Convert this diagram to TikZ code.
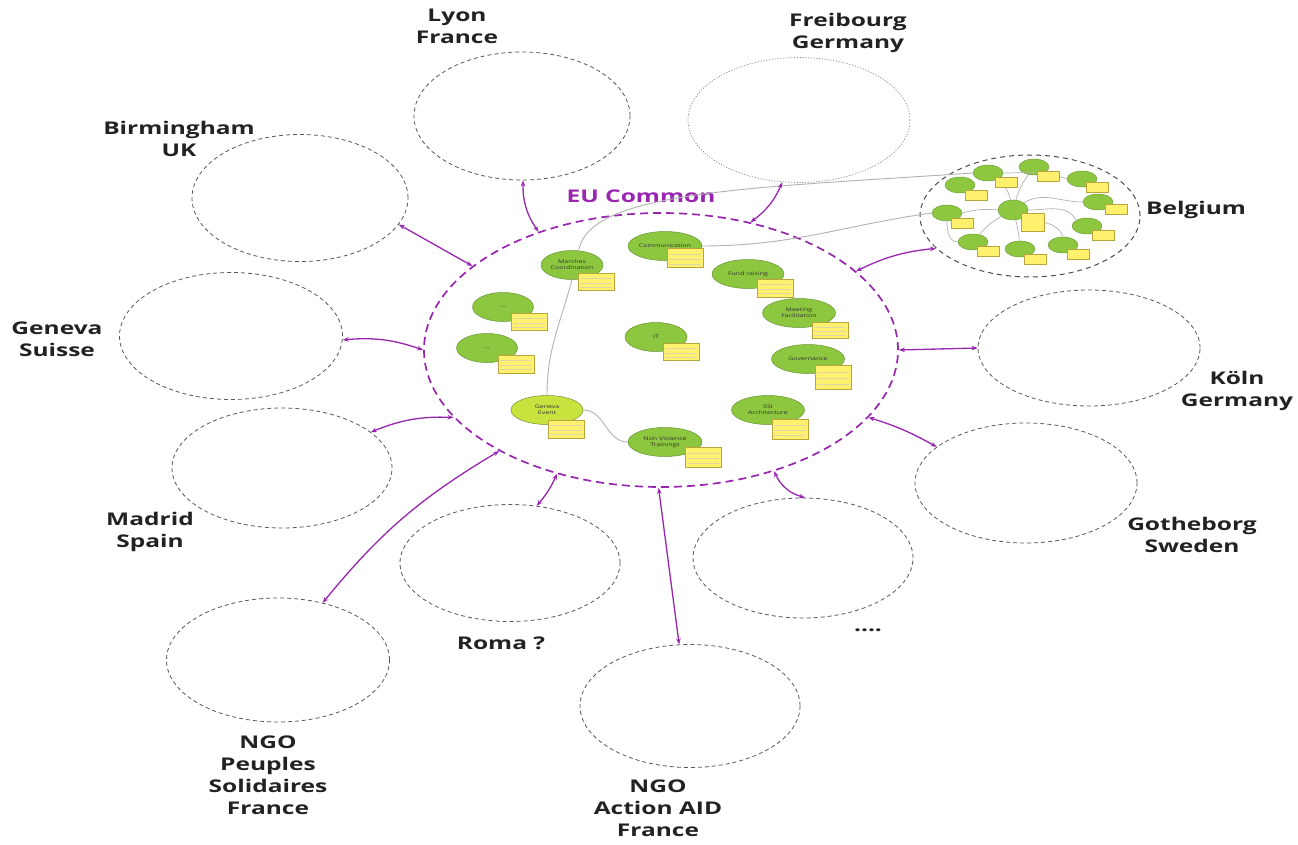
\documentclass[tikz,border=0pt]{standalone}
\usepackage{fontspec}
\setmainfont[FakeStretch=1.4]{Open Sans}
\usetikzlibrary{shapes.geometric,arrows.meta,calc}
\definecolor{eupurple}{RGB}{152,38,175}
\definecolor{labelgray}{RGB}{34,34,34}
\definecolor{leaf}{RGB}{141,198,63}
\definecolor{leafdark}{RGB}{105,150,55}
\definecolor{limeleaf}{RGB}{200,226,62}
\definecolor{notey}{RGB}{255,240,110}
\definecolor{noteb}{RGB}{185,165,60}
\begin{document}
\begin{tikzpicture}[x=1pt,y=-1pt,
  city/.style={ellipse, draw=black!65, dash pattern=on 4pt off 3pt, line width=0.8pt,
    minimum width=220pt, minimum height=124pt, inner sep=0pt},
  citydot/.style={city, draw=black!45, dash pattern=on 1.2pt off 1.6pt, line width=0.7pt},
  hub/.style={ellipse, draw=eupurple, dash pattern=on 8pt off 5pt, line width=1.7pt,
    minimum width=474pt, minimum height=274pt, inner sep=0pt},
  place/.style={font=\bfseries\fontsize{17.5}{22}\selectfont, align=center, text=labelgray},
  leafnode/.style={ellipse, draw=leafdark, fill=leaf, line width=0.5pt, minimum width=72pt,
    minimum height=29pt, inner sep=0pt, align=center, text=black!80,
    font=\fontsize{5}{5.8}\selectfont},
  minileaf/.style={ellipse, draw=leafdark, fill=leaf, line width=0.4pt, minimum width=30pt,
    minimum height=16pt, inner sep=0pt},
  note/.style={draw=noteb, fill=notey, line width=0.5pt, inner sep=0pt,
    minimum width=36pt, minimum height=18pt,
    path picture={\foreach \f in {0.3,0.55,0.8}{\draw[noteb!45,line width=0.3pt]
      ($(path picture bounding box.north west)!\f!(path picture bounding box.south west)+(2pt,0)$) --
      ($(path picture bounding box.north east)!\f!(path picture bounding box.south east)+(-2pt,0)$);}}},
  mininote/.style={draw=noteb, fill=notey, line width=0.4pt, inner sep=0pt,
    minimum width=22pt, minimum height=10pt},
  thread/.style={draw=black!30, line width=0.9pt},
  link/.style={draw=eupurple, line width=1.3pt,
    {Stealth[length=6pt,width=4.5pt]}-{Stealth[length=6pt,width=4.5pt]}}
]
\useasboundingbox (0,0) rectangle (1298,845);
\fill[white] (0,0) rectangle (1298,845);

% central hub
\node[hub] (hub) at (661,350) {};
\node[font=\bfseries\fontsize{17.5}{22}\selectfont, text=eupurple] (eutitle) at (641,196) {EU Common};

% outer cities
\node[city] (lyon) at (522,116) [minimum width=216pt, minimum height=128pt] {};
\node[citydot] (frei) at (799,120) [minimum width=222pt, minimum height=125pt] {};
\node[city] (birm) at (300,198) [minimum width=216pt, minimum height=127pt] {};
\node[city] (gene) at (231,336) [minimum width=223pt, minimum height=127pt] {};
\node[city] (madr) at (282,468) [minimum width=220pt, minimum height=120pt] {};
\node[city] (peup) at (278,660) [minimum width=223pt, minimum height=124pt] {};
\node[city] (roma) at (510,563) [minimum width=220pt, minimum height=117pt] {};
\node[city] (aid)  at (690,706) [minimum width=220pt, minimum height=123pt] {};
\node[city] (more) at (803,558) [minimum width=220pt, minimum height=120pt] {};
\node[city] (gote) at (1026,483) [minimum width=222pt, minimum height=120pt] {};
\node[city] (koln) at (1089,348) [minimum width=222pt, minimum height=116pt] {};
\node[city] (belg) at (1030,216) [minimum width=220pt, minimum height=122pt, draw=black!70, line width=1pt, dash pattern=on 5pt off 4pt] {};

% labels
\node[place] (tLyon) at (457,26) {Lyon\\France};
\node[place] (tFrei) at (848,33) {Freibourg\\Germany};
\node[place] (tBirm) at (179,139) {Birmingham\\UK};
\node[place] (tGene) at (57,339) {Geneva\\Suisse};
\node[place] (tMadr) at (150,532) {Madrid\\Spain};
\node[place] (tPeup) at (268,775) {NGO\\Peuples\\Solidaires\\France};
\node[place] (tRoma) at (501,643) {Roma ?};
\node[place] (tAid)  at (658,808) {NGO\\Action AID\\France};
\node[place] (tMore) at (868,630) {....};
\node[place] (tGote) at (1192,535) {Gotheborg\\Sweden};
\node[place] (tKoln) at (1237,391) {Köln\\Germany};
\node[place] (tBelg) at (1196,210) {Belgium};

% leaves in hub
\node[leafnode] (comm) at (665,246) [minimum width=74pt] {Communication};
\node[leafnode] (mc)   at (572,265) [minimum width=62pt] {Marches\\Coordination};
\node[leafnode] (dA)   at (503,307) [minimum width=61pt] {...};
\node[leafnode] (dB)   at (487,348) [minimum width=61pt] {...};
\node[leafnode] (it)   at (656,337) [minimum width=62pt] {IT};
\node[leafnode] (fund) at (748,274) {Fund raising};
\node[leafnode] (meet) at (799,313) [minimum width=73pt] {Meeting\\Facilitation};
\node[leafnode] (gov)  at (808,359) [minimum width=73pt] {Governance};
\node[leafnode] (ssi)  at (768,410) [minimum width=73pt] {SSI\\Architecture};
\node[leafnode] (ge)   at (547,410) [fill=limeleaf] {Geneva\\Event};
\node[leafnode] (nv)   at (665,442) [minimum width=74pt] {Non Violence\\Trainings};

\node[note] (ncomm) at (685,258) [minimum height=19pt] {};
\node[note] (nmc)   at (596,282) [minimum height=17pt] {};
\node[note] (ndA)   at (529,322) [minimum height=17pt] {};
\node[note] (ndB)   at (516,364) {};
\node[note] (nit)   at (681,352) [minimum height=17pt] {};
\node[note] (nfund) at (775,288) {};
\node[note] (nmeet) at (830,330) [minimum height=16pt] {};
\node[note] (ngov)  at (833,377) [minimum height=24pt] {};
\node[note] (nssi)  at (790,429) [minimum height=20pt] {};
\node[note] (nge)   at (566,429) {};
\node[note] (nnv)   at (703,457) [minimum height=20pt] {};

% Belgium cluster
\node[minileaf] (bc)  at (1013,210) [minimum height=20pt] {};
\node[minileaf] (b1)  at (988,173) {};
\node[minileaf] (b2)  at (960,185) {};
\node[minileaf] (b3)  at (1034,167) {};
\node[minileaf] (b4)  at (1082,179) {};
\node[minileaf] (b5)  at (1098,202) {};
\node[minileaf] (b6)  at (947,213) {};
\node[minileaf] (b7)  at (1087,226) {};
\node[minileaf] (b8)  at (973,242) {};
\node[minileaf] (b9)  at (1020,249) {};
\node[minileaf] (b10) at (1063,245) {};

\draw[thread, line width=0.7pt] (bc) to[bend right=20] (b1);
\draw[thread, line width=0.7pt] (bc) to[bend left=10] (b3);
\draw[thread, line width=0.7pt] (bc.north east) to[out=30,in=180] (b5.west);
\draw[thread, line width=0.7pt] (b1.east) to[out=0,in=160] (b4.west);
\draw[thread, line width=0.7pt] (bc.west) to[bend right=10] (b6.east);
\draw[thread, line width=0.7pt] (b6.south) to[out=-90,in=180] (b8.west);
\draw[thread, line width=0.7pt] (bc.east) to[out=0,in=120] (b7.north west);
\draw[thread, line width=0.7pt] (bc) to[bend right=10] (b8);
\draw[thread, line width=0.7pt] (bc) to[bend left=5] (b9);
\draw[thread, line width=0.7pt] (bc.south east) to[out=-20,in=110] (b10.north);

\node[mininote] (m1)  at (1006,182) {};
\node[mininote] (m2)  at (976,195) {};
\node[mininote] (m3)  at (1048,176) {};
\node[mininote] (m4)  at (1097,187) {};
\node[mininote] (m5)  at (1116,209) {};
\node[mininote] (m6)  at (962,223) {};
\node[mininote] (m7)  at (1103,235) {};
\node[mininote] (m8)  at (988,251) {};
\node[mininote] (m9)  at (1035,259) {};
\node[mininote] (m10) at (1078,254) {};
\node[mininote] (mc0) at (1033,222) [minimum width=23pt, minimum height=18pt] {};

% grey threads in hub
\draw[thread] (mc.south) to[out=-105,in=90] (ge.north);
\draw[thread] (ge.east) to[out=0,in=180] (nv.west);
\draw[thread] (comm.east) to[out=0,in=188] (b6.west);
\draw[thread] (mc.65) .. controls +(10,-60) and +(-220,15) .. (b1.west);

% purple links
\draw[link] (lyon.-89) to[bend right=18] (hub.136);
\draw[link] (birm.-15) -- (hub.156);
\draw[link] (gene.-2) to[bend left=12] (hub.180);
\draw[link] (madr.22) to[bend left=12] (hub.198);
\draw[link] (peup.52) to[bend left=10] (hub.212);
\draw[link] (roma.65) to[bend right=8] (hub.-130);
\draw[link] (aid.100) -- (hub.-91);
\draw[link] (more.88) to[bend left=25] (hub.-47);
\draw[link] (gote.158) to[bend right=6] (hub.-18);
\draw[link] (koln.180) -- (hub.0);
\draw[link] (belg.-161) to[bend right=10] (hub.22);
\draw[link] (frei.-105) to[bend left=15] (hub.55);
\end{tikzpicture}
\end{document}
